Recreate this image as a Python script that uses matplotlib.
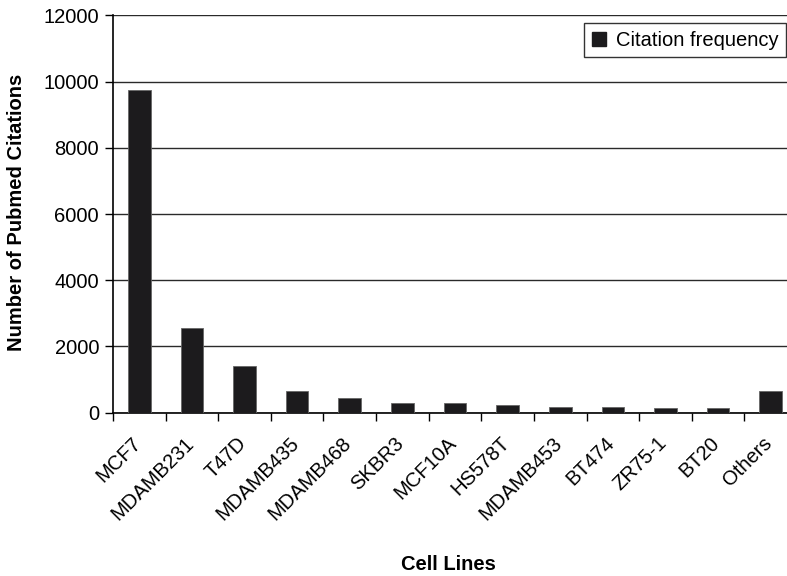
import matplotlib
matplotlib.use("Agg")
import matplotlib.pyplot as plt
import matplotlib.transforms as mtransforms
from matplotlib.patches import Patch
import numpy as np

plt.rcParams['font.family'] = ['Liberation Sans', 'DejaVu Sans']

categories = ["MCF7", "MDAMB231", "T47D", "MDAMB435", "MDAMB468", "SKBR3",
              "MCF10A", "HS578T", "MDAMB453", "BT474", "ZR75-1", "BT20", "Others"]
citations = [9730, 2560, 1400, 665, 455, 285, 285, 235, 185, 185, 135, 135, 665]
yticks = [0, 2000, 4000, 6000, 8000, 10000, 12000]

W, H = 787, 576
fig = plt.figure(figsize=(W / 100, H / 100), dpi=100)
left, right, top, bottom = 113, 797, 15.3, 412.7
ax = fig.add_axes([left / W, 1 - bottom / H, (right - left) / W, (bottom - top) / H])

x = np.arange(len(categories))
ax.bar(x, citations, width=0.43, color="#1c1b1d", edgecolor="#666666", linewidth=0.6, zorder=3)

ax.set_xlim(-0.5, len(categories) - 0.5)
ax.set_ylim(0, 12000)
ax.set_yticks(yticks)
ax.set_yticklabels([str(v) for v in yticks], fontsize=14.5)
ax.yaxis.grid(True, color="#2a2a2a", linewidth=1.0, zorder=0)
ax.set_axisbelow(True)

# category labels at centres, tick marks at boundaries
ax.set_xticks(x)
ax.set_xticklabels(categories, rotation=45, ha="right", va="top",
                   rotation_mode="anchor", fontsize=14.5)
ax.tick_params(axis="x", length=0, pad=15)
offset = mtransforms.ScaledTranslation(-8 / 100, 0, fig.dpi_scale_trans)
for lbl in ax.get_xticklabels():
    lbl.set_transform(lbl.get_transform() + offset)
ax.set_xticks(np.arange(len(categories) + 1) - 0.5, minor=True)
ax.tick_params(axis="x", which="minor", direction="out", length=6, width=1, color="black")
ax.tick_params(axis="y", direction="out", length=6, width=1, color="black", pad=4)

for s in ["top", "right"]:
    ax.spines[s].set_visible(False)
ax.spines["left"].set_linewidth(1.2)
ax.spines["bottom"].set_linewidth(1.2)

fig.text(17 / W, 1 - 212 / H, "Number of Pubmed Citations", fontsize=14.5, fontweight="bold",
         rotation=90, ha="center", va="center")
fig.text(448 / W, 1 - 565 / H, "Cell Lines", fontsize=14.5, fontweight="bold",
         ha="center", va="center")

handle = Patch(facecolor="#1c1b1d", edgecolor="#1c1b1d")
leg = fig.legend([handle], ["Citation frequency"], loc="upper right",
                 bbox_to_anchor=(786 / W, 1 - 23 / H), fontsize=14.5, frameon=True,
                 fancybox=False, handlelength=0.7, handleheight=0.7, handletextpad=0.5,
                 borderpad=0.38, borderaxespad=0)
leg.get_frame().set_edgecolor("black")
leg.get_frame().set_linewidth(1.0)

fig.savefig("out.png", dpi=100)
